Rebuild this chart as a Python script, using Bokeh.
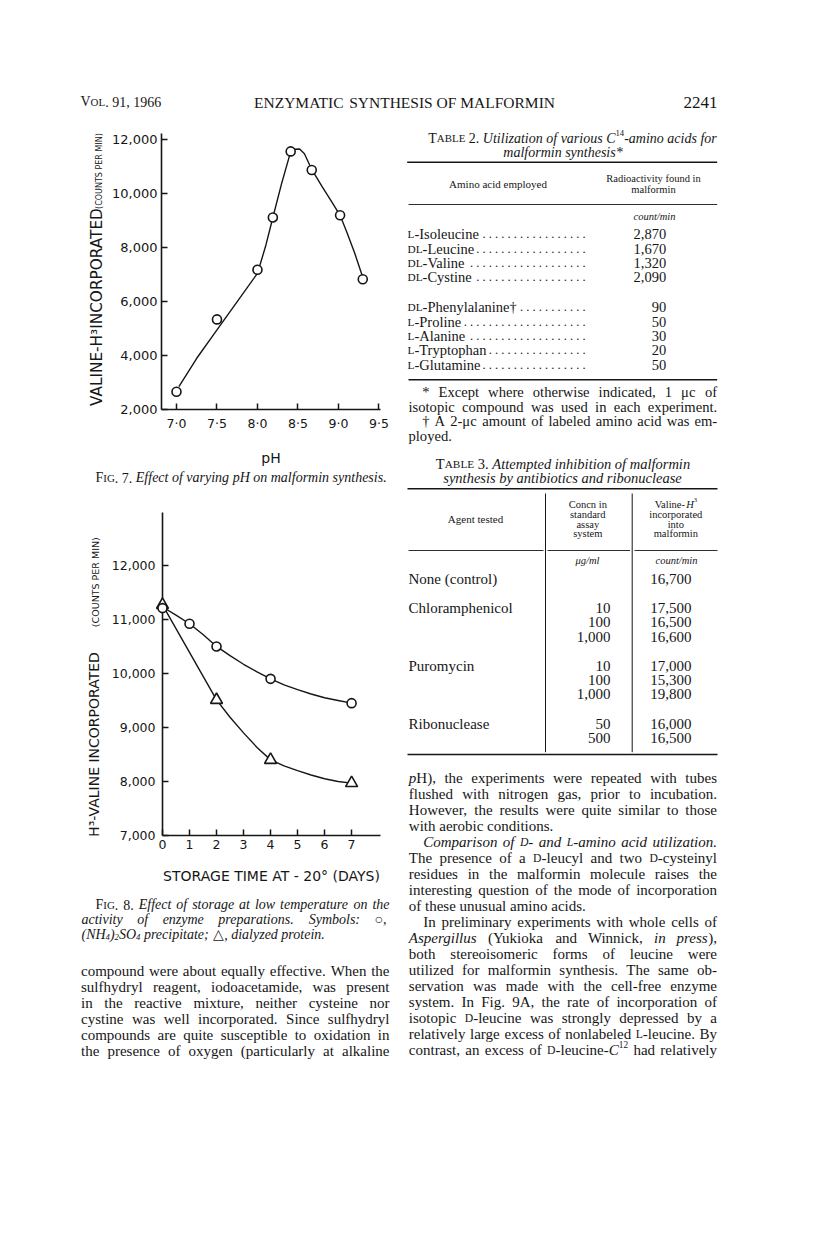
import math
from bokeh.plotting import figure
from bokeh.layouts import column, row
from bokeh.models import ColumnDataSource, Range1d, FixedTicker
from bokeh.core.properties import value, field
from bokeh.embed import file_html
from bokeh.resources import INLINE

INK = "#161616"
YSHIFT = -4.0

# ---------------- Fig. 7 data ----------------
ph_values = [7.0, 7.5, 8.0, 8.19, 8.41, 8.67, 9.02, 9.30]
ph_counts = [2660, 5340, 7180, 9120, 11570, 10880, 9200, 6830]
ph_curve_x = [7.03, 7.25, 7.5, 7.75, 8.0, 8.1, 8.19, 8.3, 8.41, 8.46, 8.52, 8.58, 8.67, 8.8, 8.9, 9.02, 9.1, 9.2, 9.3]
ph_curve_y = [2850, 3900, 4950, 6000, 7050, 8050, 9120, 10400, 11560, 11650, 11660, 11480, 10900, 10250, 9780, 9200, 8600, 7800, 6900]
ph_ticks = [7.0, 7.5, 8.0, 8.5, 9.0, 9.5]
ph_tick_labels = ["7·0", "7·5", "8·0", "8·5", "9·0", "9·5"]
fig7_y_ticks = [2000, 4000, 6000, 8000, 10000, 12000]
fig7_y_tick_labels = ["2,000", "4,000", "6,000", "8,000", "10,000", "12,000"]

# ---------------- Fig. 8 data ----------------
days_salt = [0, 1, 2, 4, 7]
counts_salt = [11210, 10920, 10500, 9900, 9450]
days_dialyzed = [0, 2, 4, 7]
counts_dialyzed = [11270, 9510, 8400, 7970]
curve_days = [0, 0.5, 1, 1.5, 2, 2.5, 3, 3.5, 4, 4.5, 5, 5.5, 6, 6.5, 7]
curve_salt = [11230, 11080, 10920, 10720, 10500, 10330, 10170, 10030, 9900, 9790, 9700, 9620, 9550, 9500, 9450]
curve_dialyzed = [11270, 10830, 10390, 9950, 9510, 9190, 8900, 8630, 8400, 8290, 8200, 8120, 8050, 8000, 7970]
day_ticks = [0, 1, 2, 3, 4, 5, 6, 7]
day_tick_labels = ["0", "1", "2", "3", "4", "5", "6", "7"]
fig8_y_ticks = [7000, 8000, 9000, 10000, 11000, 12000]
fig8_y_tick_labels = ["7,000", "8,000", "9,000", "10,000", "11,000", "12,000"]

# ---------------- Table 2 ----------------
t2_acids = ["L-Isoleucine", "DL-Leucine", "DL-Valine", "DL-Cystine",
            "DL-Phenylalanine†", "L-Proline", "L-Alanine", "L-Tryptophan", "L-Glutamine"]
t2_counts = ["2,870", "1,670", "1,320", "2,090", "90", "50", "30", "20", "50"]

# ---------------- Table 3 ----------------
t3_agents = ["None (control)", "Chloramphenicol", "Puromycin", "Ribonuclease"]
t3_concn = [[""], ["10", "100", "1,000"], ["10", "100", "1,000"], ["50", "500"]]
t3_counts = [["16,700"], ["17,500", "16,500", "16,600"], ["17,000", "15,300", "19,800"], ["16,000", "16,500"]]

# ---------------- text metrics (Times / Liberation Serif) ----------------
CHARS = "".join(chr(c) for c in range(32, 123))
TR_W = [250, 333, 408, 500, 500, 833, 778, 333, 333, 333, 500, 564, 250, 333, 250, 278] + [500] * 10 + \
       [278, 278, 564, 564, 564, 444, 921] + \
       [722, 667, 667, 722, 611, 556, 722, 722, 333, 389, 722, 611, 889, 722, 722, 556, 722, 667, 556, 611, 722, 722, 944, 722, 722, 611] + \
       [333, 278, 333, 469, 500, 333] + \
       [444, 500, 444, 500, 444, 333, 500, 500, 278, 278, 500, 278, 778, 500, 500, 500, 500, 333, 389, 278, 500, 500, 722, 500, 500, 444]
TI_W = [250, 333, 420, 500, 500, 833, 778, 333, 333, 333, 500, 675, 250, 333, 250, 278] + [500] * 10 + \
       [333, 333, 675, 675, 675, 500, 920] + \
       [611, 611, 667, 722, 611, 611, 722, 722, 333, 444, 667, 556, 833, 667, 722, 611, 722, 611, 500, 556, 722, 611, 833, 611, 556, 556] + \
       [389, 278, 389, 422, 500, 333] + \
       [500, 500, 444, 500, 444, 278, 500, 500, 278, 278, 444, 278, 722, 500, 500, 500, 500, 389, 389, 278, 500, 444, 667, 444, 444, 389]
TR = dict(zip(CHARS, TR_W))
TI = dict(zip(CHARS, TI_W))
for d in (TR, TI):
    d.update({"†": 500, "μ": 576, "°": 400, "○": 820, "△": 820, "·": 250})

STY = {
    "r": (TR, 1.0, "normal", 0.0),
    "i": (TI, 1.0, "italic", 0.0),
    "sc": (TR, 0.78, "normal", 0.0),
    "isc": (TI, 0.78, "italic", 0.0),
    "sup": (TR, 0.62, "normal", 0.38),
    "sub": (TR, 0.62, "normal", -0.16),
    "isub": (TI, 0.62, "italic", -0.16),
}


def rw(sty, txt, size):
    tab, sc, _, _ = STY[sty]
    return sum(tab.get(ch, 560) for ch in txt) * size * sc / 1000.0


class Sink:
    def __init__(self):
        self.x, self.y, self.t, self.s, self.f = [], [], [], [], []

    def put(self, x, base, txt, sty, size):
        _, sc, fs, rise = STY[sty]
        self.x.append(x)
        self.y.append(-(base - rise * size))
        self.t.append(txt)
        self.s.append("%.2fpx" % (size * sc))
        self.f.append(fs)

    def draw(self, p):
        src = ColumnDataSource(dict(x=self.x, y=self.y, text=self.t, size=self.s, fstyle=self.f))
        p.text(x="x", y="y", text="text", source=src, text_font=value("Liberation Serif"),
               text_font_size=field("size"), text_font_style=field("fstyle"), text_color=INK,
               text_align="left", text_baseline="alphabetic")


def split_words(runs):
    words = [[]]
    for sty, txt in runs:
        parts = txt.split(" ")
        for k, part in enumerate(parts):
            if k > 0:
                words.append([])
            if part:
                words[-1].append((sty, part))
    return [w for w in words if w]


def baseline(yc, size):
    return yc + 0.32 * size + YSHIFT


def set_line(sink, runs, x0, x1, yc, size, mode="left"):
    if isinstance(runs, str):
        runs = [("r", runs)]
    ws = split_words(runs)
    widths = [sum(rw(s, t, size) for s, t in w) for w in ws]
    n = len(ws)
    total = sum(widths)
    sp = 0.25 * size
    if mode == "justify" and n > 1:
        gap = max((x1 - x0 - total) / (n - 1), 0.16 * size)
        x = x0
    else:
        gap = sp
        full = total + sp * (n - 1)
        if mode == "left":
            x = x0
        elif mode == "right":
            x = x1 - full
        else:
            x = (x0 + x1) / 2.0 - full / 2.0
    base = baseline(yc, size)
    for w, wd in zip(ws, widths):
        xx = x
        for s, t in w:
            sink.put(xx, base, t, s, size)
            xx += rw(s, t, size)
        x += wd + gap


def text_fig(x0, x1, y0, y1):
    p = figure(width=int(x1 - x0), height=int(y1 - y0), x_range=Range1d(x0, x1), y_range=Range1d(-y1, -y0),
               output_backend="svg", toolbar_location=None, x_axis_type=None, y_axis_type=None,
               min_border=0)
    p.outline_line_color = None
    p.background_fill_color = "white"
    p.border_fill_color = "white"
    return p


def rule(p, x0, x1, y, w):
    p.segment(x0=[x0], y0=[-y], x1=[x1], y1=[-y], line_color=INK, line_width=w)


# ================= header =================
header = text_fig(0, 808, 0, 115)
H = Sink()
set_line(H, [("r", "V"), ("sc", "OL"), ("r", ". 91, 1966")], 80, 80, 101, 14, "left")
set_line(H, "ENZYMATIC SYNTHESIS OF MALFORMIN", 404, 404, 101, 15.5, "center")
set_line(H, "2241", 717, 717, 101, 17, "right")
H.draw(header)


# ================= charts =================
def chart(width, height, xr, yr, mb):
    p = figure(width=width, height=height, x_range=Range1d(*xr), y_range=Range1d(*yr),
               output_backend="svg", toolbar_location=None,
               min_border_left=mb[0], min_border_right=mb[1], min_border_top=mb[2], min_border_bottom=mb[3])
    p.outline_line_color = None
    p.grid.grid_line_color = None
    p.background_fill_color = "white"
    p.border_fill_color = "white"
    return p


def style_axis(ax, ticks, labels, size, standoff):
    ax.ticker = FixedTicker(ticks=ticks)
    ax.major_label_overrides = {t: l for t, l in zip(ticks, labels)}
    ax.axis_line_color = INK
    ax.axis_line_width = 1.6
    ax.major_tick_line_color = INK
    ax.major_tick_line_width = 1.5
    ax.major_tick_in = 6
    ax.major_tick_out = 0
    ax.minor_tick_line_color = None
    ax.major_label_text_font = "DejaVu Sans"
    ax.major_label_text_font_size = size
    ax.major_label_text_color = INK
    ax.major_label_standoff = standoff


def rot_label(p, x, y, txt, size):
    p.text(x=[x], y=[-y], text=[txt], angle=math.pi / 2, text_align="center", text_baseline="middle",
           text_font=value("DejaVu Sans"), text_font_size=size, text_color=INK)


# Fig 7
fig7 = chart(295, 353, (6.815, 9.519), (2000, 12233), (56, 20, 18, 58))
style_axis(fig7.xaxis[0], ph_ticks, ph_tick_labels, "12.5px", 6)
style_axis(fig7.yaxis[0], fig7_y_ticks, fig7_y_tick_labels, "13px", 4)
fig7.xaxis.axis_label = "pH"
fig7.xaxis.axis_label_text_font = "DejaVu Sans"
fig7.xaxis.axis_label_text_font_size = "14px"
fig7.xaxis.axis_label_text_font_style = "normal"
fig7.xaxis.axis_label_text_color = INK
fig7.xaxis.axis_label_standoff = 16
fig7.line(ph_curve_x, ph_curve_y, line_color=INK, line_width=1.4)
fig7.scatter(ph_values, ph_counts, marker="circle", size=9, fill_color="white", line_color=INK, line_width=1.6)

ylab7 = text_fig(0, 105, 115, 468)
rot_label(ylab7, 96.0, 337, "VALINE-H³INCORPORATED", "15.3px")
rot_label(ylab7, 98.7, 163.0, "(COUNTS PER MIN)", "8px")

cap7 = text_fig(0, 400, 468, 505)
C7 = Sink()
set_line(C7, [("r", "F"), ("sc", "IG"), ("r", ". 7."), ("i", " Effect of varying pH on malformin synthesis.")],
         95, 388, 477, 14, "left")
C7.draw(cap7)

# Fig 8
fig8 = chart(295, 387, (0, 8.07), (7000, 12980), (57, 20, 7, 57))
style_axis(fig8.xaxis[0], day_ticks, day_tick_labels, "12.5px", 4)
style_axis(fig8.yaxis[0], fig8_y_ticks, fig8_y_tick_labels, "12.5px", 7)
fig8.xaxis.axis_label = "STORAGE TIME AT - 20° (DAYS)"
fig8.xaxis.axis_label_text_font = "DejaVu Sans"
fig8.xaxis.axis_label_text_font_size = "14px"
fig8.xaxis.axis_label_text_font_style = "normal"
fig8.xaxis.axis_label_text_color = INK
fig8.xaxis.axis_label_standoff = 16
fig8.line(curve_days, curve_salt, line_color=INK, line_width=1.4)
fig8.line(curve_days, curve_dialyzed, line_color=INK, line_width=1.4)
fig8.scatter(days_dialyzed, counts_dialyzed, marker="triangle", size=12, fill_color="white", line_color=INK,
             line_width=1.6, level="overlay")
fig8.scatter(days_salt, counts_salt, marker="circle", size=9, fill_color="white", line_color=INK,
             line_width=1.6, level="overlay")

ylab8 = text_fig(0, 105, 505, 892)
rot_label(ylab8, 93.6, 783, "H³-VALINE INCORPORATED", "14px")
rot_label(ylab8, 95.2, 588.5, "(COUNTS PER MIN)", "9.5px")

# ================= left bottom text =================
bottom = text_fig(0, 400, 892, 1225)
B = Sink()
cap8 = [
    ([("r", "F"), ("sc", "IG"), ("r", ". 8."), ("i", " Effect of storage at low temperature on the")], 95, "justify"),
    ([("i", "activity of enzyme preparations. Symbols: "), ("r", "○,")], 81, "justify"),
    ([("i", "(NH"), ("isub", "4"), ("i", ")"), ("isub", "2"), ("i", "SO"), ("isub", "4"),
      ("i", " precipitate; "), ("r", "△"), ("i", ", dialyzed protein.")], 81, "left"),
]
for k, (runs, x0, mode) in enumerate(cap8):
    set_line(B, runs, x0, 389, 904 + 15 * k, 14, mode)
left_par = [
    "compound were about equally effective. When the",
    "sulfhydryl reagent, iodoacetamide, was present",
    "in the reactive mixture, neither cysteine nor",
    "cystine was well incorporated. Since sulfhydryl",
    "compounds are quite susceptible to oxidation in",
    "the presence of oxygen (particularly at alkaline",
]
for k, ln in enumerate(left_par):
    set_line(B, ln, 80.5, 389, 970 + 16 * k, 15.0, "justify")
B.draw(bottom)

# ================= right column =================
right = text_fig(400, 808, 115, 1225)
R = Sink()
# Table 2
set_line(R, [("r", "T"), ("sc", "ABLE"), ("r", " 2."), ("i", " Utilization of various C"), ("sup", "14"),
             ("i", "-amino acids for")], 572, 572, 137.5, 14, "center")
set_line(R, [("i", "malformin synthesis*")], 562.5, 562.5, 151.5, 14, "center")
rule(right, 406.7, 716.7, 161.7, 1.6)
set_line(R, "Amino acid employed", 497.5, 497.5, 184, 11, "center")
set_line(R, "Radioactivity found in", 653, 653, 179, 10.5, "center")
set_line(R, "malformin", 653, 653, 189.5, 10.5, "center")
rule(right, 408, 716.7, 204, 0.9)
set_line(R, [("i", "count/min")], 654, 654, 216.7, 10.5, "center")
t2_rows_y = [232.7, 247.7, 261.7, 276, 306, 320.5, 334.5, 349, 363.5]
for name, cnt, yc in zip(t2_acids, t2_counts, t2_rows_y):
    pre, rest = name.split("-", 1)
    runs = [("sc", pre), ("r", "-" + rest)]
    set_line(R, runs, 407, 407, yc, 14.5, "left")
    nw = sum(rw(s, t, 14.5) for s, t in runs)
    ds = 12.5
    start = 407 + nw + 1.5
    n = int((585 - start) / (0.5 * ds) + 0.5)
    dots = " ".join(["."] * n)
    dw = rw("r", dots, ds)
    R.put(585 - dw, baseline(yc, 14.5), dots, "r", ds)
    set_line(R, cnt, 665.7, 665.7, yc, 14.5, "right")
rule(right, 408, 716.7, 379.3, 1.6)
foot = [
    ("* Except where otherwise indicated, 1 μc of", 421.7, "justify"),
    ("isotopic compound was used in each experiment.", 408, "justify"),
    ("† A 2-μc amount of labeled amino acid was em-", 421.7, "justify"),
    ("ployed.", 408, "left"),
]
for k, (ln, x0, mode) in enumerate(foot):
    set_line(R, ln, x0, 716.7, 391 + 14.6 * k, 14.6, mode)

# Table 3
set_line(R, [("r", "T"), ("sc", "ABLE"), ("r", " 3."), ("i", " Attempted inhibition of malformin")],
         562.5, 562.5, 462.7, 14.5, "center")
set_line(R, [("i", "synthesis by antibiotics and ribonuclease")], 562, 562, 476.7, 14.5, "center")
rule(right, 407, 717, 488.3, 1.6)
right.segment(x0=[545, 631.7], y0=[-493, -493], x1=[545, 631.7], y1=[-751.7, -751.7], line_color=INK, line_width=1)
set_line(R, "Agent tested", 475, 475, 519.3, 11, "center")
hy = [504.3, 514.3, 524.3, 534]
for ln, yc in zip(["Concn in", "standard", "assay", "system"], hy):
    set_line(R, ln, 587.3, 587.3, yc, 10.5, "center")
for ln, yc in zip([[("r", "Valine-"), ("i", "H"), ("sup", "3")], "incorporated", "into", "malformin"], hy):
    set_line(R, ln, 675.3, 675.3, yc, 10.5, "center")
for a, b in [(408, 543), (547, 629.5), (634, 717)]:
    rule(right, a, b, 550, 0.9)
set_line(R, [("i", "μg/ml")], 587.3, 587.3, 560.7, 10.5, "center")
set_line(R, [("i", "count/min")], 676, 676, 560.7, 10.5, "center")
agent_y = [577.7, 606.7, 664.3, 722.7]
for agent, concs, cnts, y0 in zip(t3_agents, t3_concn, t3_counts, agent_y):
    set_line(R, agent, 408, 408, y0, 15, "left")
    for j, (c, v) in enumerate(zip(concs, cnts)):
        yc = y0 + 14.3 * j
        if c:
            set_line(R, c, 610, 610, yc, 15, "right")
        set_line(R, v, 691, 691, yc, 15, "right")
rule(right, 407, 717, 754, 1.6)

right_par = [
    ([("i", "p"), ("r", "H), the experiments were repeated with tubes")], 0, "justify"),
    ("flushed with nitrogen gas, prior to incubation.", 0, "justify"),
    ("However, the results were quite similar to those", 0, "justify"),
    ("with aerobic conditions.", 0, "left"),
    ([("i", "Comparison of "), ("isc", "D"), ("i", "- and "), ("isc", "L"), ("i", "-amino acid utilization.")], 1, "justify"),
    ([("r", "The presence of a "), ("sc", "D"), ("r", "-leucyl and two "), ("sc", "D"), ("r", "-cysteinyl")], 0, "justify"),
    ("residues in the malformin molecule raises the", 0, "justify"),
    ("interesting question of the mode of incorporation", 0, "justify"),
    ("of these unusual amino acids.", 0, "left"),
    ("In preliminary experiments with whole cells of", 1, "justify"),
    ([("i", "Aspergillus"), ("r", " (Yukioka and Winnick, "), ("i", "in press"), ("r", "),")], 0, "justify"),
    ("both stereoisomeric forms of leucine were", 0, "justify"),
    ("utilized for malformin synthesis. The same ob-", 0, "justify"),
    ("servation was made with the cell-free enzyme", 0, "justify"),
    ("system. In Fig. 9A, the rate of incorporation of", 0, "justify"),
    ([("r", "isotopic "), ("sc", "D"), ("r", "-leucine was strongly depressed by a")], 0, "justify"),
    ([("r", "relatively large excess of nonlabeled "), ("sc", "L"), ("r", "-leucine. By")], 0, "justify"),
    ([("r", "contrast, an excess of "), ("sc", "D"), ("r", "-leucine-"), ("i", "C"), ("sup", "12"),
      ("r", " had relatively")], 0, "justify"),
]
for k, (runs, ind, mode) in enumerate(right_par):
    x0 = 422.7 if ind else 408.3
    set_line(R, runs, x0, 716.5, 776.7 + 16 * k, 15.0, mode)
R.draw(right)

left = column(row(ylab7, fig7, spacing=0), cap7, row(ylab8, fig8, spacing=0), bottom, spacing=0)
page = column(header, row(left, right, spacing=0), spacing=0)

open("out.html", "w").write(file_html(page, INLINE))
